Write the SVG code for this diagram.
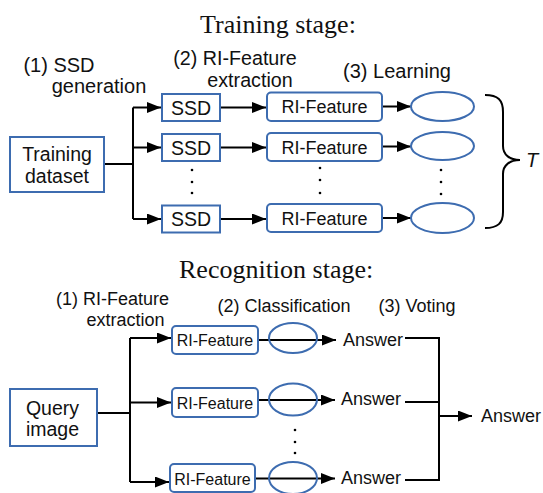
<svg xmlns="http://www.w3.org/2000/svg" width="543" height="493" viewBox="0 0 543 493">
  <style>
    .title { font-family: "Liberation Serif", "Times New Roman", serif; font-size: 26px; fill: #111; }
    .lbl { font-family: "Liberation Sans", Arial, sans-serif; fill: #111; }
    .box { fill: #fff; stroke: #3d6cb0; stroke-width: 2; }
    .ell { fill: none; stroke: #3d6cb0; stroke-width: 2; }
    .wire { fill: none; stroke: #000; stroke-width: 2; }
    .dot { fill: #000; }
  </style>
  <defs>
    <marker id="arrow" markerUnits="userSpaceOnUse" markerWidth="15" markerHeight="12" refX="14" refY="5.5" orient="auto">
      <path d="M0,0 L14,5.5 L0,11 z" fill="#000"/>
    </marker>
  </defs>

  <rect width="543" height="493" fill="#fff"/>

  <!-- Training stage -->
  <text class="title" x="278" y="33" text-anchor="middle">Training stage:</text>
  <text class="lbl" x="59" y="72" font-size="20" text-anchor="middle">(1) SSD</text>
  <text class="lbl" x="99" y="93" font-size="20" text-anchor="middle">generation</text>
  <text class="lbl" x="235" y="65" font-size="19.7" text-anchor="middle">(2) RI-Feature</text>
  <text class="lbl" x="250" y="87" font-size="19.7" text-anchor="middle">extraction</text>
  <text class="lbl" x="397" y="78" font-size="20" text-anchor="middle">(3) Learning</text>

  <g id="connectors-training">
    <path class="wire" d="M104,164 H133" stroke-width="2.5"/>
    <path class="wire" d="M133,107.5 V219"/>
    <path class="wire" d="M133,107.5 H161" marker-end="url(#arrow)"/>
    <path class="wire" d="M133,147.5 H161" marker-end="url(#arrow)"/>
    <path class="wire" d="M133,219 H161" marker-end="url(#arrow)"/>
    <path class="wire" d="M220,107.5 H266" marker-end="url(#arrow)"/>
    <path class="wire" d="M220,147.5 H266" marker-end="url(#arrow)"/>
    <path class="wire" d="M220,219 H266" marker-end="url(#arrow)"/>
    <path class="wire" d="M382,106.5 H411" marker-end="url(#arrow)"/>
    <path class="wire" d="M382,146.5 H411" marker-end="url(#arrow)"/>
    <path class="wire" d="M382,218 H411" marker-end="url(#arrow)"/>
  </g>

  <g id="training-dataset">
    <rect class="box" x="10" y="137" width="94" height="55"/>
    <text class="lbl" x="57" y="161" font-size="19.5" text-anchor="middle">Training</text>
    <text class="lbl" x="57" y="183" font-size="19.5" text-anchor="middle">dataset</text>
  </g>

  <g id="ssd-1">
    <rect class="box" x="162" y="94" width="58" height="27"/>
    <text class="lbl" x="191" y="114.5" font-size="19.5" text-anchor="middle">SSD</text>
  </g>
  <g id="ssd-2">
    <rect class="box" x="162" y="134" width="58" height="27"/>
    <text class="lbl" x="191" y="154.5" font-size="19.5" text-anchor="middle">SSD</text>
  </g>
  <g id="ssd-t">
    <rect class="box" x="162" y="205.5" width="58" height="27"/>
    <text class="lbl" x="191" y="226" font-size="19.5" text-anchor="middle">SSD</text>
  </g>
  <g id="ssd-dots">
    <circle class="dot" cx="192" cy="170" r="1.3"/>
    <circle class="dot" cx="192" cy="182" r="1.3"/>
    <circle class="dot" cx="192" cy="193" r="1.3"/>
  </g>

  <g id="train-feature-1">
    <rect class="box" x="267" y="92.5" width="115" height="28.5" rx="4"/>
    <text class="lbl" x="324.5" y="113" font-size="18" text-anchor="middle">RI-Feature</text>
  </g>
  <g id="train-feature-2">
    <rect class="box" x="267" y="133" width="115" height="28" rx="4"/>
    <text class="lbl" x="324.5" y="153.5" font-size="18" text-anchor="middle">RI-Feature</text>
  </g>
  <g id="train-feature-t">
    <rect class="box" x="267" y="204" width="115" height="28" rx="4"/>
    <text class="lbl" x="324.5" y="224.5" font-size="18" text-anchor="middle">RI-Feature</text>
  </g>
  <g id="feature-dots">
    <circle class="dot" cx="320" cy="168" r="1.3"/>
    <circle class="dot" cx="320" cy="180" r="1.3"/>
    <circle class="dot" cx="320" cy="193" r="1.3"/>
  </g>

  <g id="classifier-1"><ellipse class="ell" cx="442.5" cy="106.5" rx="31.5" ry="14.5"/></g>
  <g id="classifier-2"><ellipse class="ell" cx="442.5" cy="146" rx="31.5" ry="14"/></g>
  <g id="classifier-t"><ellipse class="ell" cx="442.5" cy="218" rx="31.5" ry="15"/></g>
  <g id="classifier-dots">
    <circle class="dot" cx="441" cy="170" r="1.3"/>
    <circle class="dot" cx="441" cy="182" r="1.3"/>
    <circle class="dot" cx="441" cy="194" r="1.3"/>
  </g>

  <g id="ensemble-size">
    <path class="wire" d="M485,95 C498,95 503,100 503,112 V146 C503,155 510,160 520,160 C510,160 503,165 503,174 V212 C503,223 498,228 485,228"/>
    <text class="lbl" x="526" y="167" font-size="20" font-style="italic">T</text>
  </g>

  <!-- Recognition stage -->
  <text class="title" x="179" y="278">Recognition stage:</text>
  <text class="lbl" x="112.5" y="305" font-size="18" text-anchor="middle">(1) RI-Feature</text>
  <text class="lbl" x="125.5" y="326" font-size="18" text-anchor="middle">extraction</text>
  <text class="lbl" x="284" y="312" font-size="18" text-anchor="middle">(2) Classification</text>
  <text class="lbl" x="417" y="312" font-size="18" text-anchor="middle">(3) Voting</text>

  <g id="connectors-recognition">
    <path class="wire" d="M97,413 H130"/>
    <path class="wire" d="M130,338 V482"/>
    <path class="wire" d="M130,338 H171" marker-end="url(#arrow)"/>
    <path class="wire" d="M130,402.5 H171" marker-end="url(#arrow)"/>
    <path class="wire" d="M130,482 H169" marker-end="url(#arrow)"/>
    <path class="wire" d="M258,340 H336" marker-end="url(#arrow)"/>
    <path class="wire" d="M258,400 H335" marker-end="url(#arrow)"/>
    <path class="wire" d="M255,478.5 H335" marker-end="url(#arrow)"/>
    <path class="wire" d="M405,338 H439 V480 H405"/>
    <path class="wire" d="M405,402 H439"/>
    <path class="wire" d="M439,416 H472" marker-end="url(#arrow)"/>
  </g>

  <g id="query-image">
    <rect class="box" x="10" y="389" width="87" height="57"/>
    <text class="lbl" x="52.5" y="415" font-size="19.5" text-anchor="middle">Query</text>
    <text class="lbl" x="52.5" y="436" font-size="19.5" text-anchor="middle">image</text>
  </g>

  <g id="query-feature-1">
    <rect class="box" x="172" y="326" width="86" height="28" rx="4"/>
    <text class="lbl" x="215" y="346" font-size="16" text-anchor="middle">RI-Feature</text>
  </g>
  <g id="query-feature-2">
    <rect class="box" x="172" y="388" width="86" height="29" rx="4"/>
    <text class="lbl" x="215" y="408.5" font-size="16" text-anchor="middle">RI-Feature</text>
  </g>
  <g id="query-feature-t">
    <rect class="box" x="170" y="464" width="85" height="28" rx="4"/>
    <text class="lbl" x="212.5" y="484.5" font-size="16" text-anchor="middle">RI-Feature</text>
  </g>

  <g id="vote-1"><ellipse class="ell" cx="293" cy="338" rx="24" ry="15"/></g>
  <g id="vote-2"><ellipse class="ell" cx="293" cy="399.5" rx="24" ry="16"/></g>
  <g id="vote-t"><ellipse class="ell" cx="293" cy="478" rx="24" ry="16"/></g>
  <g id="vote-dots">
    <circle class="dot" cx="295" cy="430" r="1.3"/>
    <circle class="dot" cx="295" cy="442" r="1.3"/>
    <circle class="dot" cx="295" cy="453" r="1.3"/>
  </g>

  <g id="answer-1"><text class="lbl" x="343" y="346" font-size="18">Answer</text></g>
  <g id="answer-2"><text class="lbl" x="341" y="405" font-size="18">Answer</text></g>
  <g id="answer-t"><text class="lbl" x="341" y="484" font-size="18">Answer</text></g>
  <g id="answer-final"><text class="lbl" x="481" y="422" font-size="18">Answer</text></g>
</svg>
